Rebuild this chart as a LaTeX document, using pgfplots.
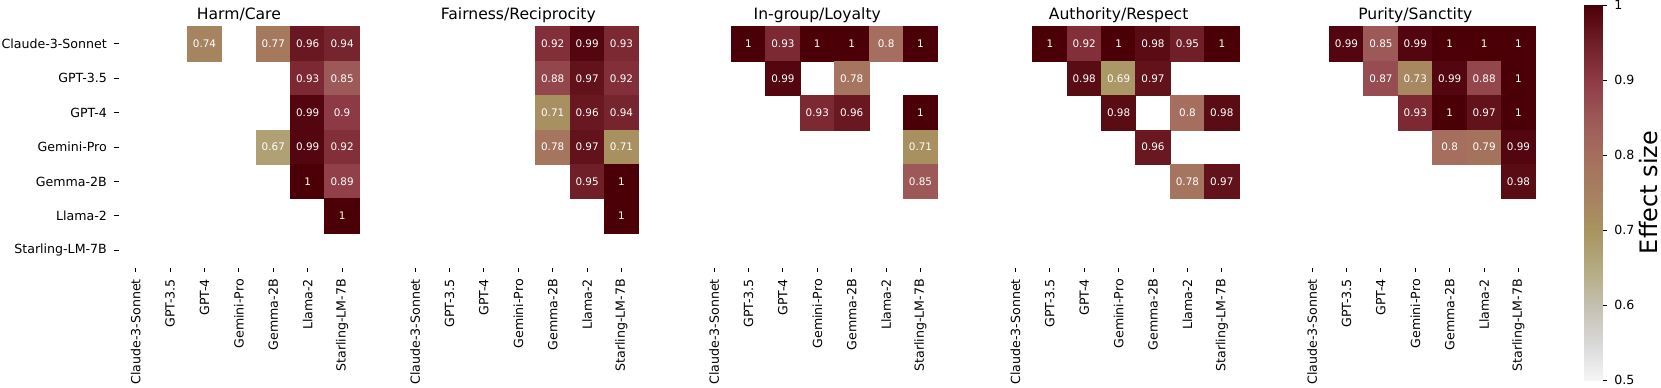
\documentclass[border=0pt]{standalone}
\usepackage{pgfplots}
\usepackage{pgfplotstable}
\pgfplotsset{compat=1.18}
\usepackage{fontspec}
\setmainfont{DejaVu Sans}

% x = column (model on x axis), y = row (model on y axis), v = effect size
\pgfplotstableread{
x y v
2 0 0.74
4 0 0.77
5 0 0.96
6 0 0.94
5 1 0.93
6 1 0.85
5 2 0.99
6 2 0.9
4 3 0.67
5 3 0.99
6 3 0.92
5 4 1
6 4 0.89
6 5 1
}\harm
\pgfplotstableread{
x y v
4 0 0.92
5 0 0.99
6 0 0.93
4 1 0.88
5 1 0.97
6 1 0.92
4 2 0.71
5 2 0.96
6 2 0.94
4 3 0.78
5 3 0.97
6 3 0.71
5 4 0.95
6 4 1
6 5 1
}\fair
\pgfplotstableread{
x y v
1 0 1
2 0 0.93
3 0 1
4 0 1
5 0 0.8
6 0 1
2 1 0.99
4 1 0.78
3 2 0.93
4 2 0.96
6 2 1
6 3 0.71
6 4 0.85
}\ingroup
\pgfplotstableread{
x y v
1 0 1
2 0 0.92
3 0 1
4 0 0.98
5 0 0.95
6 0 1
2 1 0.98
3 1 0.69
4 1 0.97
3 2 0.98
5 2 0.8
6 2 0.98
4 3 0.96
5 4 0.78
6 4 0.97
}\auth
\pgfplotstableread{
x y v
1 0 0.99
2 0 0.85
3 0 0.99
4 0 1
5 0 1
6 0 1
2 1 0.87
3 1 0.73
4 1 0.99
5 1 0.88
6 1 1
3 2 0.93
4 2 1
5 2 0.97
6 2 1
4 3 0.8
5 3 0.79
6 3 0.99
6 4 0.98
}\purity

\tikzset{ttl/.style={font=\fontsize{7.8}{9}\selectfont, anchor=base}}
\pgfplotsset{
  colormap={effect}{rgb255=(245,245,245) rgb255=(216,216,216) rgb255=(196,192,176) rgb255=(180,170,128) rgb255=(168,148,96) rgb255=(167,128,96) rgb255=(165,110,94) rgb255=(157,88,88) rgb255=(142,58,70) rgb255=(112,30,40) rgb255=(75,0,8)},
  hm/.style={
    scale only axis, width=120.4pt, height=120.4pt, anchor=south west,
    xmin=-0.5, xmax=6.5, ymin=-0.5, ymax=6.5, y dir=reverse,
    colormap name=effect, point meta min=0.5, point meta max=1,
    xtick={0,...,6},
    xticklabels={Claude-3-Sonnet,GPT-3.5,GPT-4,Gemini-Pro,Gemma-2B,Llama-2,Starling-LM-7B},
    xticklabel style={rotate=90, anchor=east, font=\fontsize{6.3}{7.5}\selectfont},
    yticklabel style={font=\fontsize{6.3}{7.5}\selectfont},
    tick align=outside, xtick pos=bottom, ytick pos=left, major tick length=2.3pt,
    tick style={black, line width=0.5pt},
    axis line style={draw=none},
    clip=false,
  },
  sq/.style={scatter, only marks, mark=square*, mark size=8.6pt, point meta=explicit,
    scatter/use mapped color={draw=mapped color, fill=mapped color}},
  lbl/.style={only marks, mark=none, point meta=explicit,
    nodes near coords={\pgfmathprintnumber[fixed,precision=2,assume math mode=true]{\pgfplotspointmeta}},
    nodes near coords align=center,
    every node near coord/.append style={font=\fontsize{5.2}{6}\selectfont, text=white, anchor=center}},
}

\begin{document}
\begin{tikzpicture}
% Colorbar
\begin{axis}[at={(791.75pt,3.5pt)}, anchor=south west, scale only axis,
  width=9.6pt, height=187.5pt,
  xmin=0, xmax=1, ymin=0.5, ymax=1, xtick=\empty,
  colormap name=effect, point meta min=0.5, point meta max=1,
  ytick={0.5,0.6,0.7,0.8,0.9,1},
  ytick pos=right, yticklabel pos=right,
  yticklabel style={font=\fontsize{6.3}{7.5}\selectfont, /pgf/number format/assume math mode=true},
  tick align=outside, major tick length=2.3pt, tick style={black, line width=0.5pt},
  axis line style={draw=none},
  ylabel={Effect size},
  ylabel style={font=\fontsize{12}{14}\selectfont, at={(axis description cs:3.4,0.5)}, anchor=center, rotate=0},
  ]
\addplot[surf, shader=interp, point meta=y, mesh/cols=2] coordinates {
(0,0.5) (1,0.5)
(0,0.55) (1,0.55)
(0,0.6) (1,0.6)
(0,0.65) (1,0.65)
(0,0.7) (1,0.7)
(0,0.75) (1,0.75)
(0,0.8) (1,0.8)
(0,0.85) (1,0.85)
(0,0.9) (1,0.9)
(0,0.95) (1,0.95)
(0,1) (1,1)
};
\end{axis}
% Harm/Care
\begin{axis}[hm, at={(59.25pt,59.75pt)},
  ytick={0,...,6},
  yticklabels={Claude-3-Sonnet,GPT-3.5,GPT-4,Gemini-Pro,Gemma-2B,Llama-2,Starling-LM-7B}]
\addplot[sq] table[meta=v]{\harm};
\addplot[lbl] table[meta=v]{\harm};
\node[ttl] at (axis description cs:0.5,1.032) {Harm/Care};
\end{axis}
% Fairness/Reciprocity
\begin{axis}[hm, at={(198.95pt,59.75pt)}, ytick=\empty]
\addplot[sq] table[meta=v]{\fair};
\addplot[lbl] table[meta=v]{\fair};
\node[ttl] at (axis description cs:0.5,1.032) {Fairness/Reciprocity};
\end{axis}
% In-group/Loyalty
\begin{axis}[hm, at={(348.45pt,59.75pt)}, ytick=\empty]
\addplot[sq] table[meta=v]{\ingroup};
\addplot[lbl] table[meta=v]{\ingroup};
\node[ttl] at (axis description cs:0.5,1.032) {In-group/Loyalty};
\end{axis}
% Authority/Respect
\begin{axis}[hm, at={(499.1pt,59.75pt)}, ytick=\empty]
\addplot[sq] table[meta=v]{\auth};
\addplot[lbl] table[meta=v]{\auth};
\node[ttl] at (axis description cs:0.5,1.032) {Authority/Respect};
\end{axis}
% Purity/Sanctity
\begin{axis}[hm, at={(647.45pt,59.75pt)}, ytick=\empty]
\addplot[sq] table[meta=v]{\purity};
\addplot[lbl] table[meta=v]{\purity};
\node[ttl] at (axis description cs:0.5,1.032) {Purity/Sanctity};
\end{axis}
\pgfresetboundingbox
\path[use as bounding box] (0pt,0pt) rectangle (830.5pt,193.5pt);
\end{tikzpicture}
\end{document}
